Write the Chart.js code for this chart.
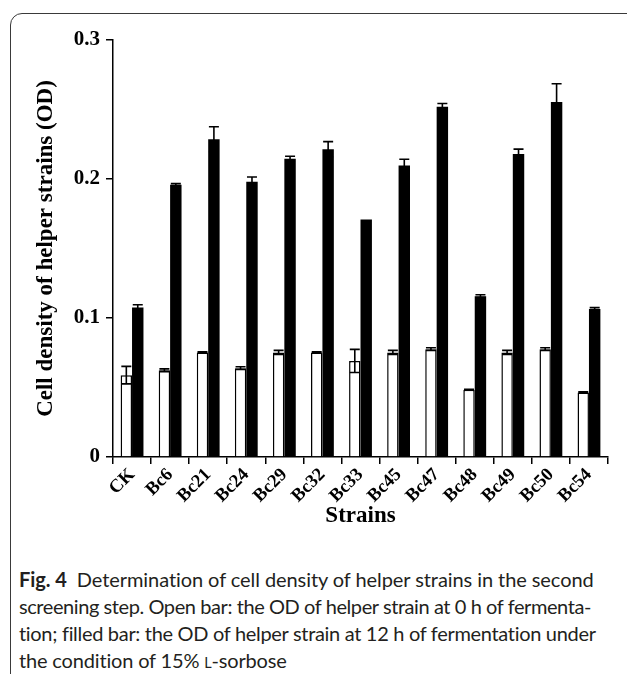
<!DOCTYPE html>
<html>
<head>
<meta charset="utf-8">
<script src="https://cdn.jsdelivr.net/npm/chart.js@4.4.0/dist/chart.umd.min.js"></script>
<style>
  html, body { margin: 0; padding: 0; background: #fff; }
  body { width: 627px; height: 674px; position: relative; overflow: hidden; }
  #frame { position: absolute; left: 10px; top: 13px; width: 660px; height: 700px;
           border: 1.5px solid #3a3a3a; border-radius: 12px; box-sizing: border-box; }
  #wrap { position: absolute; left: 0; top: 0; width: 627px; height: 540px; }
  #caption { position: absolute; left: 19px; top: 566px; width: 600px;
             font-family: Lato, "Open Sans", sans-serif; font-size: 20px; line-height: 27px;
             color: #231f20; white-space: nowrap; }
  #caption .ln { display: block; }
  #caption .ln span.t { display: inline-block; }
  #caption b { font-weight: bold; }
  .sc { font-size: 0.72em; }
</style>
</head>
<body>
<div id="frame"></div>
<div id="wrap"><canvas id="c"></canvas></div>
<div id="caption">
  <div class="ln"><span class="t" data-w="575"><b>Fig. 4</b>&nbsp; Determination of cell density of helper strains in the second</span></div>
  <div class="ln"><span class="t" data-w="572">screening step. Open bar: the OD of helper strain at 0 h of fermenta-</span></div>
  <div class="ln"><span class="t" data-w="577">tion; filled bar: the OD of helper strain at 12 h of fermentation under</span></div>
  <div class="ln"><span class="t" data-w="268">the condition of 15% <span class="sc">L</span>-sorbose</span></div>
</div>
<script>
// ---- data ----
const strains = ['CK','Bc6','Bc21','Bc24','Bc29','Bc32','Bc33','Bc45','Bc47','Bc48','Bc49','Bc50','Bc54'];
const od0h   = [0.0589, 0.0624, 0.0752, 0.0639, 0.0752, 0.0752, 0.0691, 0.0752, 0.0776, 0.0484, 0.0752, 0.0776, 0.0464];
const od0hErr = [0.0063, 0.0010, 0.0005, 0.0010, 0.0015, 0.0005, 0.0083, 0.0015, 0.0010, 0.0003, 0.0015, 0.0010, 0.0005];
const od12h  = [0.1075, 0.1959, 0.2286, 0.1981, 0.2145, 0.2214, 0.1709, 0.2097, 0.2519, 0.1157, 0.2179, 0.2554, 0.1065];
const od12hErr = [0.0020, 0.0008, 0.0090, 0.0033, 0.0019, 0.0055, 0.0000, 0.0045, 0.0024, 0.0010, 0.0036, 0.0131, 0.0010];
const yTicks = [0, 0.1, 0.2, 0.3];
const yTickLabels = ['0', '0.1', '0.2', '0.3'];
const xTitle = 'Strains';
const yTitle = 'Cell density of helper strains (OD)';

// fit caption lines to the widths seen in the reference
function fitCaption() {
  document.querySelectorAll('#caption span.t').forEach(el => {
    el.style.letterSpacing = '0px';
    const target = parseFloat(el.dataset.w);
    const natural = el.getBoundingClientRect().width;
    const n = el.textContent.length;
    if (n > 1) el.style.letterSpacing = ((target - natural) / n) + 'px';
  });
}
fitCaption();
if (document.fonts && document.fonts.ready) document.fonts.ready.then(fitCaption);

const serifBold = (size) => ({ family: '"Liberation Serif", "Times New Roman", serif', weight: 'bold', size });

const errorBars = {
  id: 'errorBars',
  afterDatasetsDraw(chart) {
    const ctx = chart.ctx;
    const yScale = chart.scales.y;
    chart.data.datasets.forEach((ds, di) => {
      const meta = chart.getDatasetMeta(di);
      const errs = ds.errors || [];
      meta.data.forEach((bar, i) => {
        const e = errs[i];
        if (!e) return;
        const v = ds.data[i];
        const x = bar.x;
        const yHi = yScale.getPixelForValue(v + e);
        const yLo = yScale.getPixelForValue(v - e);
        const cap = 5;
        ctx.save();
        ctx.strokeStyle = '#000';
        ctx.lineWidth = 1.6;
        ctx.beginPath();
        ctx.moveTo(x, yLo); ctx.lineTo(x, yHi);
        ctx.moveTo(x - cap, yHi); ctx.lineTo(x + cap, yHi);
        ctx.moveTo(x - cap, yLo); ctx.lineTo(x + cap, yLo);
        ctx.stroke();
        ctx.restore();
      });
    });
  }
};

new Chart(document.getElementById('c'), {
  type: 'bar',
  data: {
    labels: strains,
    datasets: [
      { label: '0 h', data: od0h, errors: od0hErr, backgroundColor: '#fff', borderColor: '#000', borderWidth: 1.5,
        categoryPercentage: 0.6, barPercentage: 1.0 },
      { label: '12 h', data: od12h, errors: od12hErr, backgroundColor: '#000', borderColor: '#000', borderWidth: 0,
        categoryPercentage: 0.6, barPercentage: 1.0 }
    ]
  },
  options: {
    responsive: true,
    maintainAspectRatio: false,
    animation: false,
    layout: { padding: { left: 0, right: 19, top: 40, bottom: 0 } },
    plugins: { legend: { display: false }, tooltip: { enabled: false } },
    scales: {
      x: {
        grid: { display: true, drawOnChartArea: false, drawTicks: true, tickLength: 7, color: '#000', lineWidth: 1.5 },
        border: { display: true, color: '#000', width: 1.5 },
        ticks: { color: '#000', font: serifBold(18.5), maxRotation: 45, minRotation: 45, padding: 0, autoSkip: false },
        title: { display: true, text: xTitle, color: '#000', font: serifBold(23), padding: { top: 0, bottom: 10 } },
        afterFit(scale) { scale.height = 83; }
      },
      y: {
        min: 0, max: 0.3,
        afterBuildTicks(scale) { scale.ticks = yTicks.map(v => ({ value: v })); },
        grid: { display: true, drawOnChartArea: false, drawTicks: true, tickLength: 7, color: '#000', lineWidth: 1.5 },
        border: { display: true, color: '#000', width: 1.5 },
        ticks: { color: '#000', font: serifBold(21), padding: 6,
                 callback(value) { const i = yTicks.indexOf(value); return i >= 0 ? yTickLabels[i] : ''; } },
        title: { display: true, text: yTitle, color: '#000', font: serifBold(23), padding: { top: 32, bottom: 0 } },
        afterFit(scale) { scale.width = 113; }
      }
    }
  },
  plugins: [errorBars]
});
</script>
</body>
</html>
